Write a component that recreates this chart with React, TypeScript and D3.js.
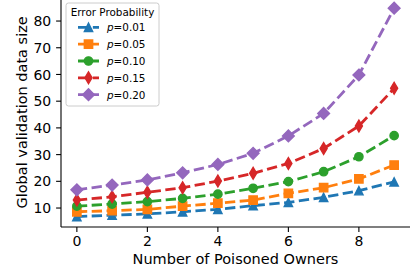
import * as d3 from 'd3';

const owners = [0, 1, 2, 3, 4, 5, 6, 7, 8, 9];
const p001 = [6.8, 7.3, 7.8, 8.6, 9.5, 10.9, 12.1, 14.0, 16.5, 19.8];
const p005 = [8.6, 9.0, 9.5, 10.7, 11.8, 13.0, 15.5, 17.6, 20.9, 26.1];
const p010 = [10.7, 11.5, 12.4, 13.6, 15.2, 17.4, 19.9, 23.6, 29.2, 37.1];
const p015 = [13.0, 14.2, 15.9, 17.6, 20.1, 23.0, 26.7, 32.3, 40.7, 54.8];
const p020 = [16.8, 18.6, 20.5, 23.2, 26.3, 30.5, 37.0, 45.4, 59.8, 84.8];
const seriesLabels = ['0.01', '0.05', '0.10', '0.15', '0.20'];
const xTicks = [0, 2, 4, 6, 8];
const yTicks = [10, 20, 30, 40, 50, 60, 70, 80];

const W = 410;
const H = 275;
const FONT = '"DejaVu Sans", sans-serif';
const MS = 8.33; // marker size, px
const LW = 2.8;
const DASH = `${3.7 * LW} ${1.6 * LW}`;

const series = [
  { label: seriesLabels[0], values: p001, color: '#1f77b4', marker: 'tri' },
  { label: seriesLabels[1], values: p005, color: '#ff7f0e', marker: 'square' },
  { label: seriesLabels[2], values: p010, color: '#2ca02c', marker: 'circle' },
  { label: seriesLabels[3], values: p015, color: '#d62728', marker: 'thin' },
  { label: seriesLabels[4], values: p020, color: '#9467bd', marker: 'diamond' },
];

function markerPath(kind: string) {
  const h = MS / 2;
  const dd = (MS * Math.SQRT2) / 2;
  if (kind === 'tri') return `M0,${-h}L${-h},${h}L${h},${h}Z`;
  if (kind === 'square') return `M${-h},${-h}H${h}V${h}H${-h}Z`;
  if (kind === 'circle') return `M${h},0A${h},${h} 0 1,1 ${-h},0A${h},${h} 0 1,1 ${h},0Z`;
  if (kind === 'thin') return `M0,${-dd}L${dd * 0.6},0L0,${dd}L${-dd * 0.6},0Z`;
  return `M0,${-dd}L${dd},0L0,${dd}L${-dd},0Z`;
}

export default function App() {
  const allVals = series.flatMap(s => s.values);
  const [lo, hi] = d3.extent(allVals) as [number, number];
  const pad = (hi - lo) * 0.05;

  const x = d3.scaleLinear().domain([-0.45, 9.45]).range([61, 410]);
  const y = d3.scaleLinear().domain([lo - pad, hi + pad]).range([227, -2.2]);

  const line = d3.line<number>()
    .x((_, i) => x(owners[i]))
    .y(d => y(d));

  const plotBottom = 227;
  const plotLeft = 61;

  return (
    <div style={{ position: 'fixed', left: 0, top: 0 }}>
      <svg width={W} height={H} style={{ display: 'block', background: 'white' }} fontFamily={FONT}>
        {/* series */}
        {series.map(s => (
          <g key={s.label}>
            <path d={line(s.values) || ''} fill="none" stroke={s.color} strokeWidth={LW} strokeDasharray={DASH} />
            {s.values.map((v, i) => (
              <path key={i} d={markerPath(s.marker)} transform={`translate(${x(owners[i])},${y(v)})`}
                fill={s.color} stroke={s.color} strokeWidth={1.39} strokeLinejoin="miter" />
            ))}
          </g>
        ))}

        {/* spines */}
        <line x1={plotLeft} x2={plotLeft} y1={-3} y2={plotBottom} stroke="#000" strokeWidth={1.1} />
        <line x1={plotLeft} x2={W} y1={plotBottom} y2={plotBottom} stroke="#000" strokeWidth={1.1} />

        {/* x ticks */}
        {xTicks.map(t => (
          <g key={t} transform={`translate(${x(t)},${plotBottom})`}>
            <line y1={0} y2={4.9} stroke="#000" strokeWidth={1.1} />
            <text y={19} textAnchor="middle" fontSize={14} fill="#000">{t}</text>
          </g>
        ))}
        {/* y ticks */}
        {yTicks.map(t => (
          <g key={t} transform={`translate(${plotLeft},${y(t)})`}>
            <line x1={0} x2={-4.9} stroke="#000" strokeWidth={1.1} />
            <text x={-9.8} dy="0.36em" textAnchor="end" fontSize={14} fill="#000">{t}</text>
          </g>
        ))}

        <text x={(plotLeft + W) / 2} y={264} textAnchor="middle" fontSize={14.5} fill="#000">Number of Poisoned Owners</text>
        <text transform={`translate(27,${(plotBottom - 2.2) / 2}) rotate(-90)`} textAnchor="middle" fontSize={14.5} fill="#000">Global validation data size</text>

        {/* legend */}
        <g>
          <rect x={66} y={3} width={93} height={103} rx={2.5} fill="white" fillOpacity={0.8} stroke="#cccccc" strokeWidth={1} />
          <text x={112.5} y={16} textAnchor="middle" fontSize={10.4} fill="#000">Error Probability</text>
          {series.map((s, i) => {
            const cy = 27.3 + i * 16.85;
            return (
              <g key={s.label}>
                <line x1={78} x2={99} y1={cy} y2={cy} stroke={s.color} strokeWidth={LW} strokeDasharray={DASH} />
                <path d={markerPath(s.marker)} transform={`translate(88.5,${cy})`} fill={s.color} stroke={s.color} strokeWidth={1.39} />
                <text x={107} y={cy + 3.8} fontSize={10.4} fill="#000">
                  <tspan fontStyle="italic">p</tspan>=
                  {s.label}
                </text>
              </g>
            );
          })}
        </g>
      </svg>
    </div>
  );
}
